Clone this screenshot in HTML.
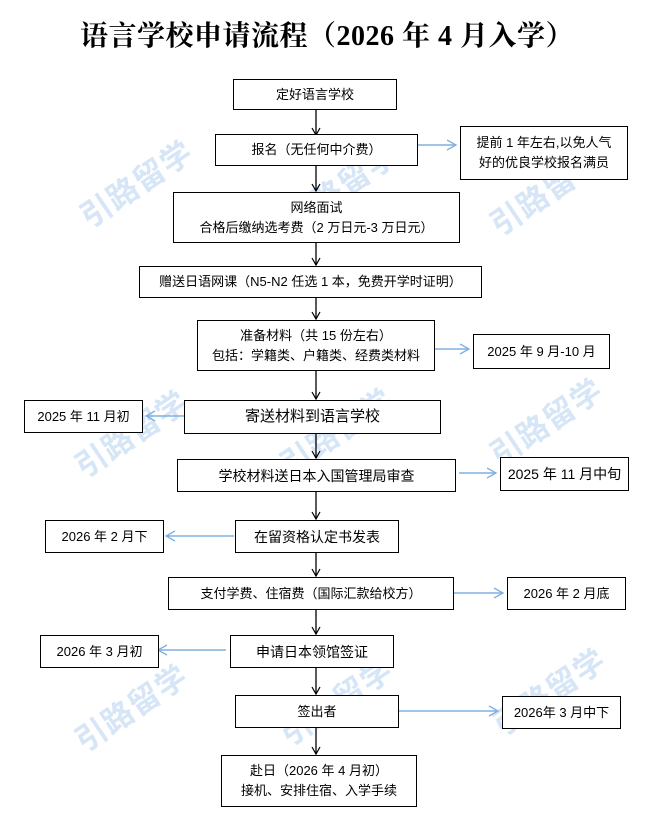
<!DOCTYPE html>
<html><head><meta charset="utf-8"><style>
body{margin:0;width:654px;height:816px;background:#fff;position:relative;overflow:hidden;font-family:"Liberation Sans","Noto Sans CJK SC",sans-serif;}
.wm{position:absolute;font-size:31px;font-weight:bold;color:#d6e6f7;transform:translate(-50%,-50%) rotate(-34deg);white-space:nowrap;letter-spacing:1px}
.b{position:absolute;box-sizing:border-box;border:1.3px solid #000;background:#fff;display:flex;flex-direction:column;align-items:center;justify-content:center;font-size:13px;line-height:20px;color:#000;text-align:center;white-space:nowrap}
h1{position:absolute;top:14px;left:0;width:654px;text-align:center;margin:0;font-family:"Liberation Serif","Noto Serif CJK SC",serif;font-size:28px;font-weight:bold;letter-spacing:0.5px}
svg{position:absolute;left:0;top:0}
</style></head><body>
<h1>语言学校申请流程（2026 年 4 月入学）</h1>
<div class="wm" style="left:135px;top:182px">引路留学</div>
<div class="wm" style="left:340px;top:185px">引路留学</div>
<div class="wm" style="left:545px;top:190px">引路留学</div>
<div class="wm" style="left:130px;top:432px">引路留学</div>
<div class="wm" style="left:335px;top:430px">引路留学</div>
<div class="wm" style="left:545px;top:420px">引路留学</div>
<div class="wm" style="left:130px;top:706px">引路留学</div>
<div class="wm" style="left:335px;top:700px">引路留学</div>
<div class="wm" style="left:548px;top:690px">引路留学</div>
<svg width="654" height="816">
<defs>
<marker id="k" markerWidth="10" markerHeight="10" refX="8" refY="5" orient="auto" markerUnits="userSpaceOnUse"><path d="M1,1 L8,5 L1,9" fill="none" stroke="#000" stroke-width="1.2"/></marker>
<marker id="bl" markerWidth="12" markerHeight="12" refX="10" refY="6" orient="auto" markerUnits="userSpaceOnUse"><path d="M1,1 L10,6 L1,11" fill="none" stroke="#7fb0e0" stroke-width="1.3"/></marker>
</defs>
<g stroke="#000" stroke-width="1.3" marker-end="url(#k)">
<line x1="316" y1="110" x2="316" y2="135"/>
<line x1="316" y1="166" x2="316" y2="191"/>
<line x1="316" y1="243" x2="316" y2="265"/>
<line x1="316" y1="298" x2="316" y2="319"/>
<line x1="316" y1="371" x2="316" y2="399"/>
<line x1="316" y1="433" x2="316" y2="458"/>
<line x1="316" y1="491" x2="316" y2="519"/>
<line x1="316" y1="552" x2="316" y2="576"/>
<line x1="316" y1="609" x2="316" y2="634"/>
<line x1="316" y1="667" x2="316" y2="694"/>
<line x1="316" y1="727" x2="316" y2="754"/>
</g>
<g stroke="#7fb0e0" stroke-width="1.6" marker-end="url(#bl)">
<line x1="418" y1="145" x2="456" y2="145"/>
<line x1="434" y1="349" x2="469" y2="349"/>
<line x1="184" y1="416" x2="146" y2="416"/>
<line x1="459" y1="473" x2="496" y2="473"/>
<line x1="234" y1="536" x2="166" y2="536"/>
<line x1="453" y1="593" x2="503" y2="593"/>
<line x1="226" y1="650" x2="158" y2="650"/>
<line x1="399" y1="711" x2="498" y2="711"/>
</g>
</svg>
<div class="b" style="left:233px;top:79px;width:164px;height:31px">定好语言学校</div>
<div class="b" style="left:215px;top:134px;width:203px;height:32px">报名（无任何中介费）</div>
<div class="b" style="left:460px;top:126px;width:168px;height:54px">提前 1 年左右,以免人气<br>好的优良学校报名满员</div>
<div class="b" style="left:173px;top:192px;width:287px;height:51px">网络面试<br>合格后缴纳选考费（2 万日元-3 万日元）</div>
<div class="b" style="left:139px;top:266px;width:343px;height:32px">赠送日语网课（N5-N2 任选 1 本，免费开学时证明）</div>
<div class="b" style="left:197px;top:320px;width:238px;height:51px">准备材料（共 15 份左右）<br>包括：学籍类、户籍类、经费类材料</div>
<div class="b" style="left:473px;top:334px;width:137px;height:35px">2025 年 9 月-10 月</div>
<div class="b" style="left:184px;top:400px;width:257px;height:34px;font-size:15px">寄送材料到语言学校</div>
<div class="b" style="left:24px;top:400px;width:119px;height:33px">2025 年 11 月初</div>
<div class="b" style="left:177px;top:459px;width:279px;height:33px;font-size:14px">学校材料送日本入国管理局审查</div>
<div class="b" style="left:500px;top:457px;width:129px;height:34px;font-size:14px">2025 年 11 月中旬</div>
<div class="b" style="left:235px;top:520px;width:164px;height:33px;font-size:14px">在留资格认定书发表</div>
<div class="b" style="left:45px;top:520px;width:119px;height:33px">2026 年 2 月下</div>
<div class="b" style="left:168px;top:577px;width:286px;height:33px">支付学费、住宿费（国际汇款给校方）</div>
<div class="b" style="left:507px;top:577px;width:119px;height:33px">2026 年 2 月底</div>
<div class="b" style="left:230px;top:635px;width:164px;height:33px;font-size:14px">申请日本领馆签证</div>
<div class="b" style="left:40px;top:635px;width:119px;height:33px">2026 年 3 月初</div>
<div class="b" style="left:235px;top:695px;width:164px;height:33px">签出者</div>
<div class="b" style="left:502px;top:696px;width:119px;height:33px">2026年 3 月中下</div>
<div class="b" style="left:221px;top:755px;width:196px;height:52px">赴日（2026 年 4 月初）<br>接机、安排住宿、入学手续</div>
</body></html>
